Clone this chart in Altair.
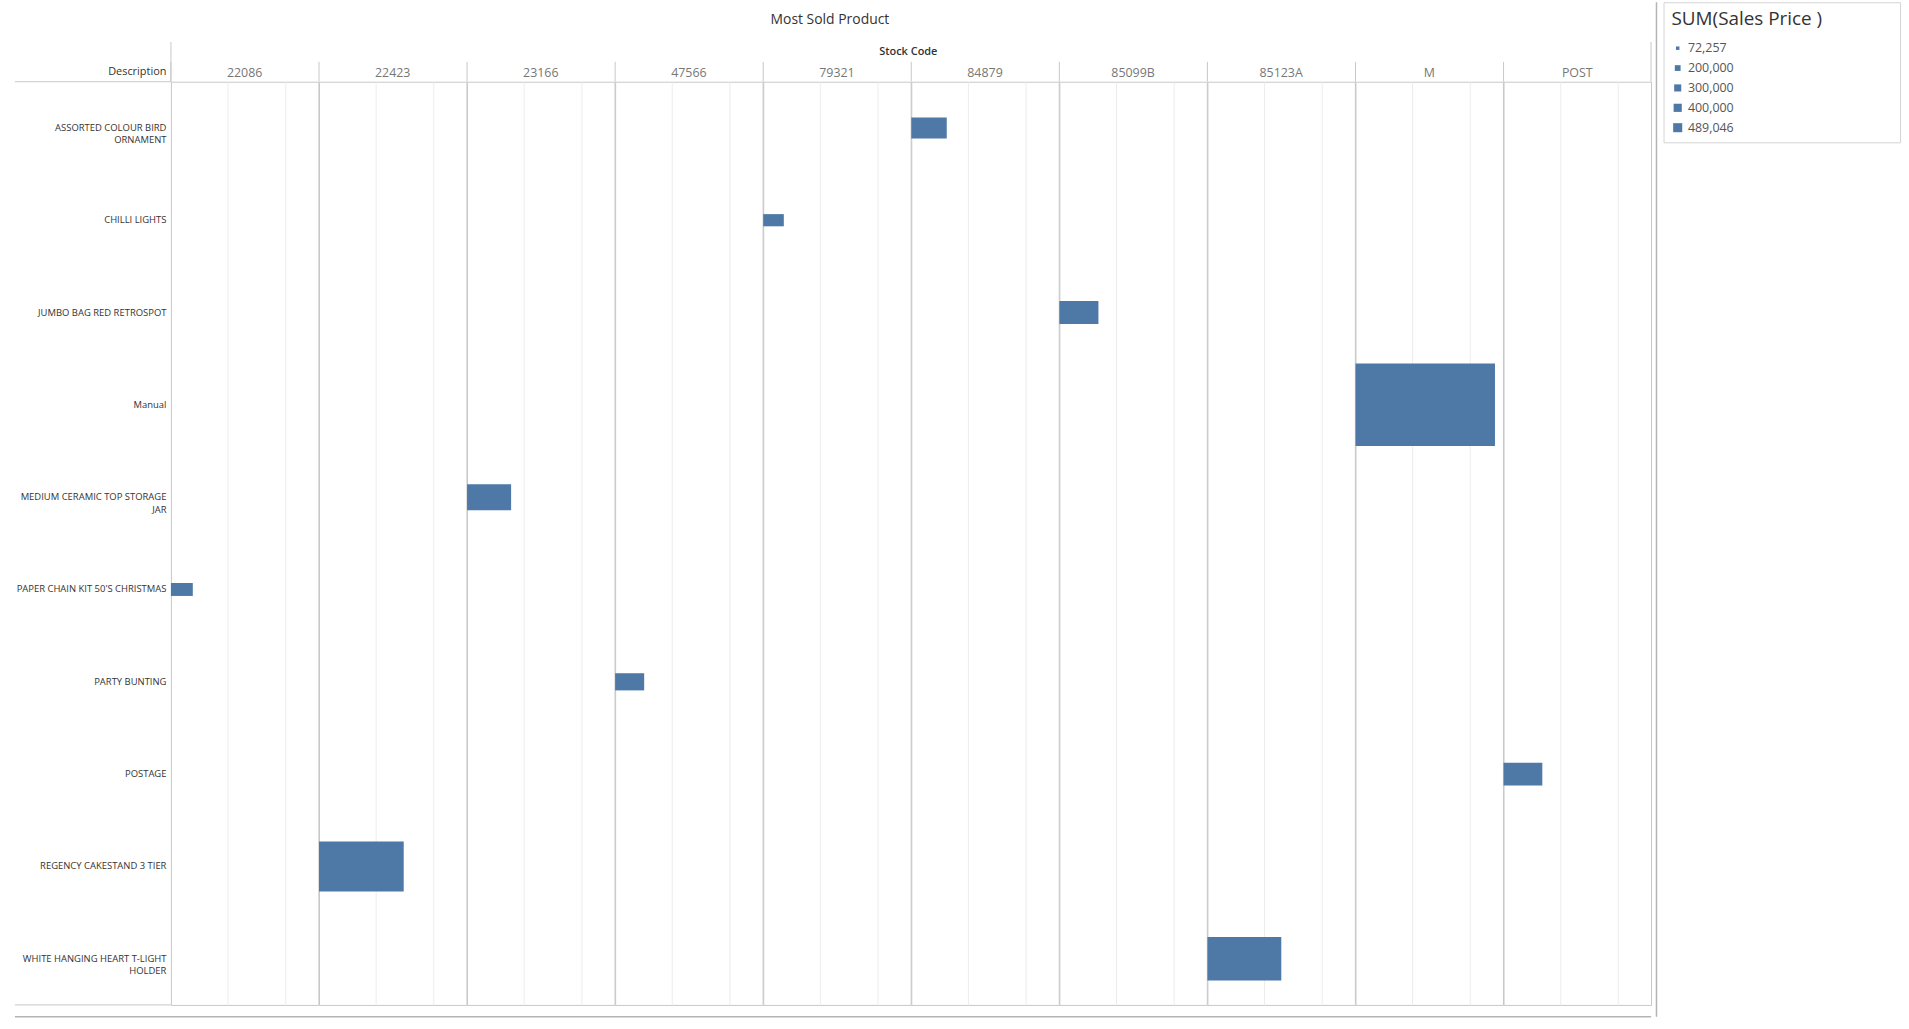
import altair as alt
import pandas as pd

# Data
desc_labels = [
    "ASSORTED COLOUR BIRD|ORNAMENT",
    "CHILLI LIGHTS",
    "JUMBO BAG RED RETROSPOT",
    "Manual",
    "MEDIUM CERAMIC TOP STORAGE|JAR",
    "PAPER CHAIN KIT 50'S CHRISTMAS",
    "PARTY BUNTING",
    "POSTAGE",
    "REGENCY CAKESTAND 3 TIER",
    "WHITE HANGING HEART T-LIGHT|HOLDER",
]
stock_codes = ["84879", "79321", "85099B", "M", "23166", "22086", "47566", "POST", "22423", "85123A"]
sales_price = [124400, 72257, 137000, 489046, 154400, 76700, 101800, 135900, 297000, 259000]

column_order = ["22086", "22423", "23166", "47566", "79321", "84879", "85099B", "85123A", "M", "POST"]
legend_values = [72257, 200000, 300000, 400000, 489046]
column_title = "Stock Code"

df = pd.DataFrame({"desc": desc_labels, "code": stock_codes, "sales": sales_price})

FONT = "Open Sans"
PAD = "\u2800"
W, H = 148.4, 929
LINE = "#c8c8c8"
SHEET = "#b4b4b4"

bars = alt.Chart().mark_bar(color="#4e79a7").encode(
    x=alt.X(
        "sales:Q",
        scale=alt.Scale(domain=[0, 517000], nice=False),
        axis=alt.Axis(values=[200000, 400000], labels=False, ticks=False, domain=False,
                      title=None, grid=True, gridColor="#ececec", gridWidth=1),
    ),
    y=alt.Y(
        "desc:N",
        sort=desc_labels,
        scale=alt.Scale(paddingInner=0, paddingOuter=0),
        axis=alt.Axis(
            title="Description", titleAngle=0, titleAlign="right", titleBaseline="middle",
            titleX=-5, titleY=-10, titleFontSize=11, titleFontWeight="normal", titleColor="#333",
            titleFont=FONT,
            labelExpr="split(datum.label, '|')", labelFontSize=9.5, labelColor="#333",
            labelFont=FONT, labelLineHeight=12.5, labelLimit=300,
            ticks=False, domain=False, labelPadding=5, grid=False,
        ),
    ),
    size=alt.Size(
        "sales:Q",
        scale=alt.Scale(domain=[0, 489046], range=[0, 83]),
        legend=alt.Legend(
            title="SUM(Sales Price )" + PAD * 5, values=legend_values,
            labelExpr="format(datum.value, ',')",
            symbolFillColor="#d4d4d4", symbolStrokeColor="#d4d4d4", symbolStrokeWidth=0,
            symbolType="square", titleLimit=1000,
            orient="none", legendX=1502, legendY=-80,
        ),
    ),
)

# header separators above every column
sep = alt.Chart().mark_rule(color=LINE, strokeWidth=1).encode(
    x=alt.value(0), y=alt.value(-20), y2=alt.value(0)
)
first = alt.Chart().transform_filter(alt.datum.code == column_order[0])
left_ext = first.mark_rule(color=LINE).encode(x=alt.value(0), y=alt.value(-40), y2=alt.value(0))
top_ext = first.mark_rule(color=LINE).encode(x=alt.value(-157), x2=alt.value(0), y=alt.value(0))
bot_ext = first.mark_rule(color=LINE).encode(x=alt.value(-157), x2=alt.value(0), y=alt.value(H))
sheet_bottom = first.mark_rule(color=SHEET, strokeWidth=1.5).encode(
    x=alt.value(-157), x2=alt.value(1489.5), y=alt.value(H + 12)
)
col_title = first.mark_text(
    font=FONT, fontSize=11, fontWeight=600, color="#333", align="center", baseline="middle"
).encode(x=alt.value(5 * W), y=alt.value(-30), text=alt.value(column_title))
last = alt.Chart().transform_filter(alt.datum.code == column_order[-1])
right_ext = last.mark_rule(color=LINE).encode(x=alt.value(W), y=alt.value(-40), y2=alt.value(0))
sheet_right = last.mark_rule(color=SHEET, strokeWidth=1.5).encode(
    x=alt.value(1489.5 - 9 * W), y=alt.value(-80), y2=alt.value(H + 12)
)

layered = alt.layer(
    bars, sep, left_ext, top_ext, bot_ext, sheet_bottom, col_title, right_ext, sheet_right,
    data=df,
).properties(width=W, height=H)

chart = layered.facet(
    column=alt.Column(
        "code:N",
        sort=column_order,
        title=None,
        header=alt.Header(
            labelFontSize=12.5, labelColor="#777", labelFont=FONT, labelPadding=2,
        ),
    ),
    spacing=0,
    bounds="flush",
).properties(
    title=alt.TitleParams("Most Sold Product", fontSize=14, fontWeight="normal", color="#333",
                          font=FONT, anchor="middle", offset=0, dy=26, dx=-128),
    padding={"left": 13, "top": -3, "right": 8, "bottom": 10},
).configure_view(
    stroke=LINE, strokeWidth=1
).configure_legend(
    titleFontSize=19, titleFontWeight="normal", titleColor="#333", titleFont=FONT,
    labelFontSize=12.5, labelColor="#555", labelFont=FONT,
    padding=8, strokeColor="#d4d4d4", fillColor="white",
    rowPadding=7, titlePadding=13,
)

chart.save("out.html", embed_options={"renderer": "svg", "actions": False})
